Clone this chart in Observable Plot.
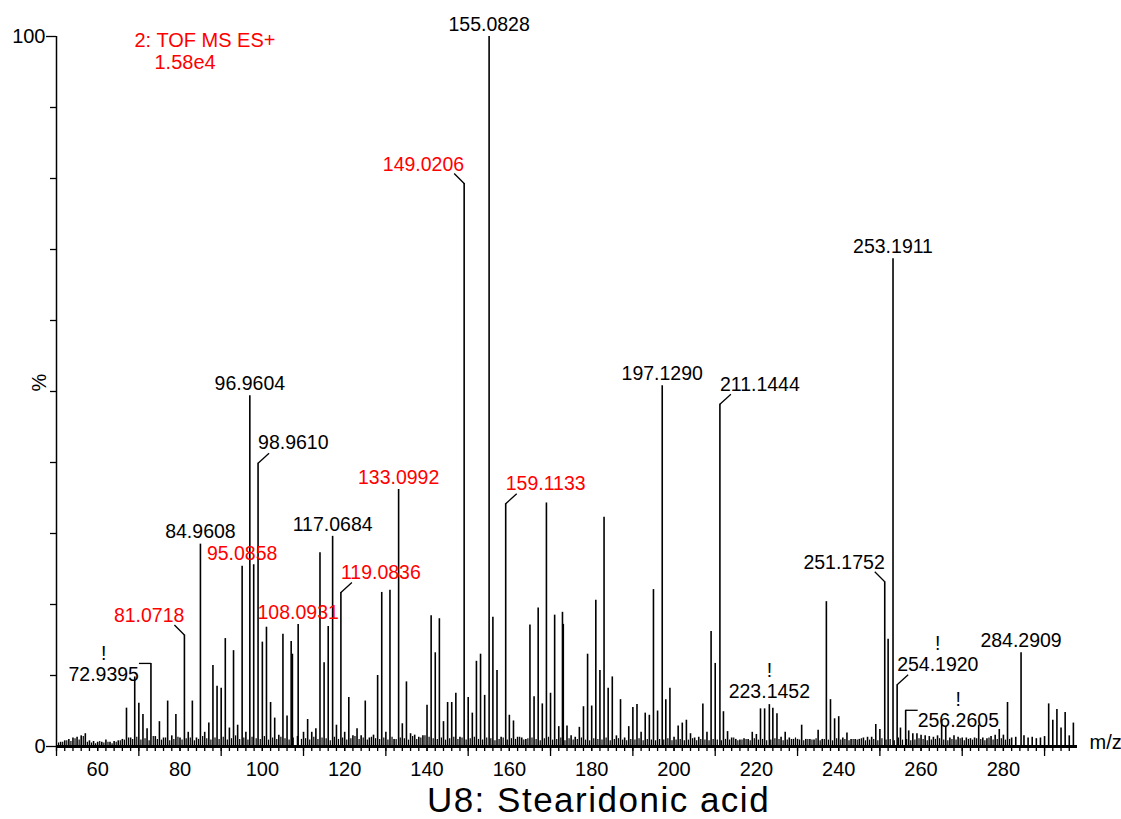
<!DOCTYPE html>
<html><head><meta charset="utf-8">
<script src="https://cdn.jsdelivr.net/npm/d3@7"></script>
<script src="https://cdn.jsdelivr.net/npm/@observablehq/plot@0.6"></script>
<style>
body{margin:0;background:#fff;font-family:"Liberation Sans",Arial,sans-serif;}
#title{width:1121px;box-sizing:border-box;padding-left:76px;text-align:center;font-size:35px;line-height:36px;letter-spacing:1.5px;margin-top:-3px;color:#000;}
</style></head><body>
<div id="chart"></div>
<div id="title">U8: Stearidonic acid</div>
<script>
// ---- data ----
const peakMz = [
 51,52,53,54,55,56,57,58,59,60,61,62,63,64,65,66,
 67,68,69,70,71,72,72.94,74,75,76,77,78,79,80,81.07,82,83,84,84.96,86,87,88,89,90,91,92,93,94,95.09,96,96.96,97.9,98.96,
 100,101,102,103,104,105,106,107,107.3,108.7,110,111,112,113,114,115,116,117.07,118,119.08,120,121,122,123,124,125,126,127,128,129,130,131,132,133.1,134,135,136,137,138,139,
 140,141,142,143,144,145,146,147,148,149.02,150,151,152,153,154,155.08,156,157,158,159.11,160,161,162,163,164,165,166,167,168,169,170,171,172,172.9,173.1,174,175,176,177,178,179,
 180,181,182,183,184,185,186,187,188,189,190,191,192,193,194,195,196,197.13,198,199,200,201,202,203,204,205,206,207,208,209,210,211.14,212,213,214,215,216,217,218,219,
 220,221,222,223.15,224,225,226,227,228,229,230,231,232,233,234,235,236,237,238,239,240,241,242,243,244,245,246,247,248,249,250,251.18,252,253.19,254.19,255,256.26,257,258,259,
 260,261,262,263,264,265,266,267,268,269,270,271,272,273,274,275,276,277,278,279,280,281,282,283,284.29,285,286,287,288,289,290,291,292,293,294,295,296,297
];
const peakPct = [
 0.6,0.8,1.0,1.2,1.3,1.5,1.8,0.8,0.7,0.6,0.6,0.9,0.6,0.7,0.8,1.0,
 5.4,1.2,9.8,6.1,4.5,2.5,11.7,1.4,3.5,1.2,6.4,1.5,4.5,1.2,15.7,2.0,6.4,1.2,28.5,2.0,3.3,11.4,8.5,8.2,15.2,2.6,13.5,3.0,25.4,2.0,49.4,25.6,39.9,
 14.7,16.8,6.2,4.0,1.6,15.8,4.3,14.8,13.0,17.2,2.0,3.8,2.0,2.5,27.3,11.8,16.9,29.6,3.0,21.7,2.0,6.9,1.5,2.5,1.5,6.4,1.2,1.6,10.0,21.7,2.0,22.0,1.0,36.2,3.2,9.1,1.8,1.6,1.3,1.5,
 5.8,18.4,13.2,18.0,3.5,6.2,6.2,7.5,1.3,79.3,6.9,4.7,12.0,13.0,7.2,100,18.2,10.7,1.3,34.2,4.4,3.6,1.3,1.2,1.0,17.1,7.0,19.5,6.0,34.3,7.5,18.5,2.8,18.9,17.2,2.9,1.5,1.3,2.7,5.6,13.0,
 5.7,20.6,10.7,32.3,8.2,9.8,1.5,6.6,1.2,2.8,5.5,5.9,2.0,4.7,4.4,22.1,5.0,50.8,6.6,8.2,1.3,2.9,3.3,3.7,1.8,1.2,1.3,6.0,2.0,16.2,11.7,48.2,4.9,2.1,1.2,1.0,0.9,1.1,1.0,2.0,
 1.7,5.3,5.3,5.9,5.4,4.6,1.3,2.0,1.2,1.0,1.0,3.0,1.0,1.0,0.9,2.3,1.0,20.4,6.6,3.9,4.2,1.2,1.9,1.0,1.0,1.0,1.2,1.3,1.3,3.1,2.4,23.2,15.1,68.7,8.7,2.6,5.1,2.2,1.8,1.8,
 1.6,1.5,1.4,1.3,1.5,3.7,2.8,1.2,1.5,1.3,1.2,1.2,1.1,1.2,3.0,1.2,1.1,1.4,1.6,2.4,1.6,6.2,1.2,1.3,13.2,1.5,1.2,1.3,1.1,1.2,1.4,6.0,3.7,5.2,2.6,4.8,1.5,3.3
];
// baseline noise between nominal masses (half-mass positions 50.5 ... 297.5)
const noiseStart = 50.5;
const noisePct = [
 0.5,0.6,0.8,0.7,1.1,0.9,1.4,0.6,0.5,0.4,0.7,0.5,0.6,0.4,0.6,0.8,0.9,1.2,1.0,1.3,
 0.9,1.1,0.8,1.4,1.0,0.9,1.2,0.8,1.0,1.3,0.9,1.1,1.2,0.8,1.0,1.4,1.1,0.9,1.2,1.0,
 1.3,0.9,1.1,1.5,1.0,1.2,0.9,1.3,1.1,1.0,1.4,0.9,1.2,1.0,1.3,1.1,0.9,1.2,1.4,1.0,
 1.1,0.9,1.3,1.0,1.2,1.1,0.8,1.3,1.0,1.2,0.9,1.1,1.4,1.0,1.2,0.9,1.3,1.1,1.0,1.2,
 0.9,1.3,1.0,1.2,1.1,0.9,1.4,1.0,1.2,1.5,1.3,1.1,1.0,1.2,0.9,1.1,1.3,1.0,1.2,0.9,
 1.1,1.3,1.0,0.9,1.2,1.1,0.8,1.0,1.2,0.9,1.1,1.0,1.3,0.9,1.1,1.2,1.0,0.8,1.1,1.3,
 0.9,1.0,1.2,0.8,1.1,0.9,1.0,1.2,0.9,0.8,1.1,1.0,0.9,1.2,0.8,1.0,1.1,0.9,0.8,1.0,
 0.9,1.1,0.8,1.0,0.9,0.8,1.0,0.9,1.1,0.8,0.9,1.0,0.8,0.9,1.1,0.8,1.0,0.9,0.8,1.0,
 0.9,0.8,1.0,0.9,1.2,0.8,0.9,1.0,0.8,1.1,0.9,1.0,0.8,0.9,1.1,1.0,0.8,0.9,1.0,1.2,
 0.9,0.8,1.0,0.9,1.1,0.8,1.0,0.9,0.8,1.1,0.9,1.0,0.8,1.0,0.9,1.1,0.8,0.9,1.0,0.8,
 1.1,0.9,1.0,0.8,1.2,0.9,1.0,0.8,0.9,1.1,1.0,0.8,0.9,1.0,1.1,0.9,0.8,1.0,0.9,1.1,
 0.8,1.0,0.9,1.1,1.0,0.8,1.2,0.9,1.0,1.1,0.9,1.0
];
// labels: text, peak position, colour, style, "!" flag
const labelText  = ["155.0828","149.0206","253.1911","96.9604","197.1290","211.1444","98.9610","133.0992","159.1133","117.0684","84.9608","95.0858","119.0836","81.0718","108.0931","251.1752","254.1920","284.2909","72.9395","223.1452","256.2605"];
const labelPeak  = [155.08,149.02,253.19,96.96,197.13,211.14,98.96,133.1,159.11,117.07,84.96,95.09,119.08,81.07,108.7,251.18,254.19,284.29,72.94,223.15,256.26];
const labelRed   = [false,true,false,false,false,false,false,true,true,false,false,true,true,true,true,false,false,false,false,false,false];
const labelStyle = ["c","l","c","c","c","r","r","c","r","c","c","c","r","l","c","l","r","c","bl","c","br"];
const labelBang  = [false,false,false,false,false,false,false,false,false,false,false,false,false,false,false,false,true,false,true,true,true];
const xTicksMajor = [50,70,90,110,130,150,170,190,210,230,250,270,290];
const xTickLabels = [60,80,100,120,140,160,180,200,220,240,260,280];
const yTicks = [0,10,20,30,40,50,60,70,80,90,100];
const headerLines = ["2: TOF MS ES+","1.58e4"];

// ---- layout ----
const W = 1121, H = 785, ML = 56, MR = 44, MT = 36, MB = 39;
const xDom = [50, 298];
const kx = (xDom[1]-xDom[0])/(W-ML-MR), ky = 100/(H-MT-MB);
const FS = 19.5, FT = 20, FH = 20;
const font = '"Liberation Sans", Arial, sans-serif';

const peaks = peakMz.map((m,i)=>({mz:m, pct:peakPct[i]}));
const noise = noisePct.map((v,i)=>({mz:noiseStart+i, pct:v}));
const xMinor = d3.range(50, 298, 2);
const pctOf = m => peaks.find(p=>p.mz===m).pct;
const textW = s => { let w=0; for (const c of s) w += (c==="."?0.278:0.556); return w*FS; };

const marks = [
  Plot.ruleX(noise, {x:"mz", y1:0, y2:"pct", stroke:"#000", strokeWidth:1.2}),
  Plot.ruleX(peaks, {x:"mz", y1:0, y2:"pct", stroke:"#000", strokeWidth:1.6}),
  Plot.ruleY([0], {x1:xDom[0], x2:xDom[1], stroke:"#000", strokeWidth:3}),
  Plot.ruleX([xDom[0]], {y1:0, y2:100, stroke:"#000", strokeWidth:1.5}),
  Plot.axisX(xMinor, {tickSize:5, tickFormat:()=>"", strokeWidth:1.3, label:null}),
  Plot.axisX(xTicksMajor, {tickSize:10, tickFormat:()=>"", strokeWidth:1.3, label:null}),
  Plot.axisX(xTickLabels, {tickSize:5, tickPadding:10, fontSize:FT, strokeWidth:1.3, label:null}),
  Plot.axisY(yTicks.filter(d=>d!==0&&d!==100), {tickSize:6, tickFormat:()=>"", strokeWidth:1.3, label:null}),
  Plot.axisY([0,100], {tickSize:10, tickPadding:1, fontSize:FT, strokeWidth:1.3, label:null}),
  Plot.text(["%"], {frameAnchor:"left", dx:-17, rotate:-90, fontSize:FT, fill:"#000"}),
  Plot.text(["m/z"], {frameAnchor:"bottom-right", dx:12, dy:2, textAnchor:"start", fontSize:FT, fill:"#000"}),
  Plot.text([headerLines[0]], {frameAnchor:"top-left", dx:78, dy:4, textAnchor:"start", lineAnchor:"middle", fontSize:FH, fill:"#f00"}),
  Plot.text([headerLines[1]], {frameAnchor:"top-left", dx:98, dy:26, textAnchor:"start", lineAnchor:"middle", fontSize:FH, fill:"#f00"})
];

labelText.forEach((t,i)=>{
  const m = labelPeak[i], p = pctOf(m), st = labelStyle[i];
  const fill = labelRed[i] ? "#f00" : "#000";
  const w = textW(t);
  let dx=0, dy=-12, anchor="middle", cx=0;
  if (st==="l") { anchor="end"; dy=-19; cx=-w/2;
    marks.push(Plot.link([0], {x1:m, y1:p, x2:m-10*kx, y2:p+10*ky, stroke:"#000", strokeWidth:1.3})); }
  if (st==="r") { anchor="start"; dy=-20; cx=w/2;
    marks.push(Plot.link([0], {x1:m, y1:p, x2:m+11*kx, y2:p+10*ky, stroke:"#000", strokeWidth:1.3})); }
  if (st==="bl") { anchor="end"; dx=-12; dy=11; cx=-12-w/2;
    marks.push(Plot.link([0], {x1:m, y1:p, x2:m-12*kx, y2:p, stroke:"#000", strokeWidth:1.3})); }
  if (st==="br") { anchor="start"; dx=12; dy=10; cx=12+w/2;
    marks.push(Plot.link([0], {x1:m, y1:p, x2:m+12*kx, y2:p, stroke:"#000", strokeWidth:1.3})); }
  if (st==="c" && labelBang[i]) dy=-13;
  marks.push(Plot.text([t], {x:m, y:p, text:d=>d, dx, dy, textAnchor:anchor, fontSize:FS, fill}));
  if (labelBang[i]) marks.push(Plot.text(["!"], {x:m, y:p, text:d=>d, dx:cx, dy:dy-21, fontSize:FS, fill:"#000"}));
});

const chart = Plot.plot({
  width:W, height:H, marginLeft:ML, marginRight:MR, marginTop:MT, marginBottom:MB,
  style:{fontFamily:font, fontSize:FS+"px", color:"#000", background:"#fff", overflow:"visible"},
  x:{domain:xDom, axis:null},
  y:{domain:[0,100], axis:null},
  marks
});
document.getElementById("chart").appendChild(chart);
</script>
</body></html>
